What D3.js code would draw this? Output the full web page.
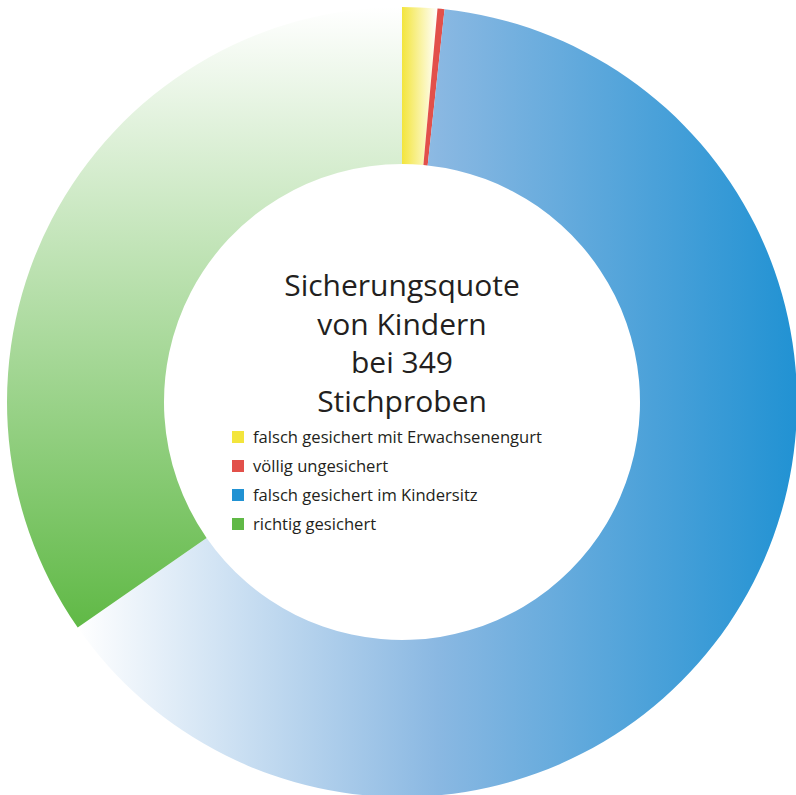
<!DOCTYPE html>
<html lang="de">
<head>
	<meta charset="utf-8">
	<title>Sicherungsquote von Kindern</title>
	<script src="https://d3js.org/d3.v7.min.js"></script>
	<style>
		body { margin: 0; background: #fff; }
	</style>
</head>
<body>
	<div id="chart"></div>
	<script>
		// Anteile aus 349 Stichproben
		const categories = ["falsch gesichert mit Erwachsenengurt", "völlig ungesichert", "falsch gesichert im Kindersitz", "richtig gesichert"];
		const counts = [5, 1, 222, 121];
		const colors = ["#f3e53c", "#e2504a", "#2192d3", "#60b946"];
		const titleLines = ["Sicherungsquote", "von Kindern", "bei 349", "Stichproben"];

		let width = 796;
		let height = 795;
		let cx = 402, cy = 402;
		let outerR = 395;
		let innerR = 238;

		let svg = d3.select("#chart")
			.append("svg")
			.attr("width", width)
			.attr("height", height);

		// gradients: yellow fades to white to the right, blue from white on the left,
		// green from white at the top
		let defs = svg.append("defs");
		let grads = [
			{ id: "g0", x2: 1, y2: 0, stops: [[0, colors[0]], [1, "#ffffff"]] },
			{ id: "g1", x2: 1, y2: 0, stops: [[0, colors[1]], [1, colors[1]]] },
			{ id: "g2", x2: 1, y2: 0, stops: [[0, "#ffffff"], [0.5, "#8ab8e2"], [1, colors[2]]] },
			{ id: "g3", x2: 0, y2: 1, stops: [[0, "#ffffff"], [1, colors[3]]] }
		];
		grads.forEach(gr => {
			let lg = defs.append("linearGradient")
				.attr("id", gr.id)
				.attr("x1", 0).attr("y1", 0)
				.attr("x2", gr.x2).attr("y2", gr.y2);
			gr.stops.forEach(s => {
				lg.append("stop").attr("offset", s[0]).attr("stop-color", s[1]);
			});
		});

		let pie = d3.pie().sort(null).value(d => d);
		let arc = d3.arc().innerRadius(innerR).outerRadius(outerR);

		let g = svg.append("g").attr("transform", `translate(${cx},${cy})`);
		g.selectAll("path")
			.data(pie(counts))
			.enter()
			.append("path")
			.attr("d", arc)
			.attr("fill", (d, i) => `url(#g${i})`);

		// title in the middle
		g.append("text")
			.attr("text-anchor", "middle")
			.attr("font-family", "'Open Sans', sans-serif")
			.attr("font-size", 30)
			.attr("fill", "#231f20")
			.selectAll("tspan")
			.data(titleLines)
			.enter()
			.append("tspan")
			.attr("x", 0)
			.attr("y", (d, i) => -106 + i * 38.5)
			.text(d => d);

		// legend
		let legend = g.append("g").attr("transform", "translate(-170,29)");
		let rows = legend.selectAll("g")
			.data(categories)
			.enter()
			.append("g")
			.attr("transform", (d, i) => `translate(0,${i * 29})`);
		rows.append("rect")
			.attr("width", 12)
			.attr("height", 12)
			.attr("fill", (d, i) => colors[i]);
		rows.append("text")
			.attr("x", 21)
			.attr("y", 12)
			.attr("font-family", "'Open Sans', sans-serif")
			.attr("font-size", 16.6)
			.attr("fill", "#231f20")
			.text(d => d);
	</script>
</body>
</html>
